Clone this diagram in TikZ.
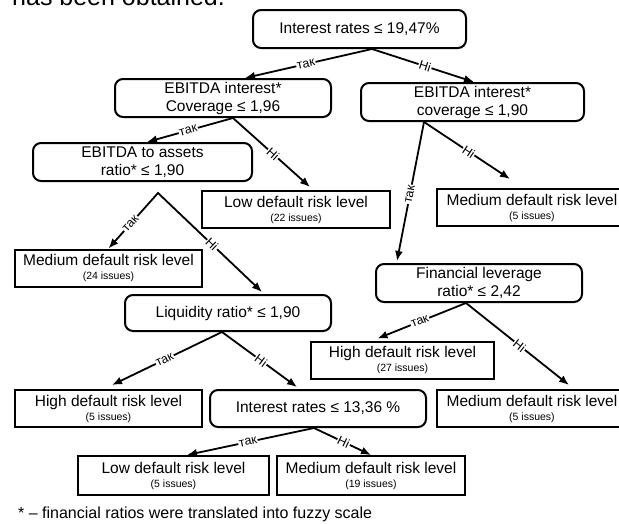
\documentclass[tikz,border=0pt]{standalone}
\usepackage{fontspec}
\setmainfont{Liberation Sans}
\usetikzlibrary{arrows.meta}
\tikzset{
  dec/.style={draw, line width=2pt, rounded corners=8pt, align=center, minimum height=38pt, inner sep=1pt, font=\fontsize{15.5}{18}\selectfont},
  leaf/.style={draw, line width=2pt, align=center, minimum height=37pt, inner sep=1pt, font=\fontsize{15.5}{18}\selectfont},
  edge/.style={line width=1.8pt, ->},
  lbl/.style={sloped, fill=white, inner sep=0.8pt, font=\fontsize{12.5}{13}\selectfont, pos=0.52},
}
\newcommand{\issues}[1]{\\[-4pt]{\fontsize{10.5}{12}\selectfont (#1 issues)}}

\begin{document}
\begin{tikzpicture}[x=1pt,y=-1pt,>={Latex[length=10pt,width=8pt]}]
\useasboundingbox (0,0) rectangle (619,523);
\node[anchor=base west, inner sep=0pt, font=\fontsize{25}{30}\selectfont] (intro) at (12,5) {has been obtained.};
\node[dec, minimum width=213pt] (root) at (359.5,29) {Interest rates ≤ 19,47\%};
\node[dec, minimum width=216pt] (cov1) at (223,98) {EBITDA interest*\\Coverage ≤ 1,96};
\node[dec, minimum width=223pt] (cov2) at (472.5,102) {EBITDA interest*\\coverage ≤ 1,90};
\node[dec, minimum width=219pt] (assets) at (142.5,162) {EBITDA to assets\\ratio* ≤ 1,90};
\node[leaf, minimum width=188pt] (low22) at (296,209.5) {Low default risk level\issues{22}};
\node[leaf, minimum width=190pt] (med5a) at (532,207.5) {Medium default risk level\issues{5}};
\node[leaf, minimum width=187pt] (med24) at (108.5,268) {Medium default risk level\issues{24}};
\node[dec, minimum width=206pt, minimum height=36pt] (liq) at (228,313) {Liquidity ratio* ≤ 1,90};
\node[dec, minimum width=206pt] (lev) at (479,283) {Financial leverage\\ratio* ≤ 2,42};
\node[leaf, minimum width=183pt] (high27) at (402.5,360) {High default risk level\issues{27}};
\node[leaf, minimum width=190pt] (med5b) at (532,408.5) {Medium default risk level\issues{5}};
\node[leaf, minimum width=187pt] (high5) at (108.5,408.5) {High default risk level\issues{5}};
\node[dec, minimum width=216pt, minimum height=37pt] (rate2) at (318,408.5) {Interest rates ≤ 13,36 \%};
\node[leaf, minimum width=191pt, minimum height=39pt] (low5) at (173.5,475.5) {Low default risk level\issues{5}};
\node[leaf, minimum width=188pt, minimum height=39pt] (med19) at (371,475.5) {Medium default risk level\issues{19}};
\node[anchor=base west, inner sep=0pt, font=\fontsize{16}{18}\selectfont] (note) at (18,518) {* – financial ratios were translated into fuzzy scale};

\coordinate (fork) at ([xshift=15.5pt,yshift=-11pt]assets.south);
\draw[edge] ([xshift=12.5pt]root.south) -- node[lbl]{так} ([xshift=22pt]cov1.north);
\draw[edge] ([xshift=12.5pt]root.south) -- node[lbl]{Ні} ([xshift=1.5pt]cov2.north);
\draw[edge] ([xshift=10pt]cov1.south) -- node[lbl]{так} ([xshift=4.5pt]assets.north);
\draw[edge] ([xshift=10pt]cov1.south) -- node[lbl]{Ні} ([xshift=14pt,yshift=3pt]low22.north);
\draw[edge] ([xshift=-48.5pt]cov2.south) -- node[lbl]{так} ([xshift=-82pt,yshift=2pt]lev.north);
\draw[edge] ([xshift=-48.5pt]cov2.south) -- node[lbl]{Ні} ([xshift=-22pt,yshift=9pt]med5a.north);
\draw[line width=1.8pt, <->] (med24.north) -- node[lbl, pos=0.45]{так} (fork) -- node[lbl]{Ні} ([xshift=34pt,yshift=2pt]liq.north);
\draw[edge] ([xshift=-13pt]lev.south) -- node[lbl]{так} ([xshift=-25pt,yshift=2pt]high27.north);
\draw[edge] ([xshift=-13pt]lev.south) -- node[lbl]{Ні} ([xshift=37pt,yshift=4pt]med5b.north);
\draw[edge] ([xshift=-6pt]liq.south) -- node[lbl]{так} ([xshift=3.5pt,yshift=4pt]high5.north);
\draw[edge] ([xshift=-6pt]liq.south) -- node[lbl]{Ні} ([xshift=-21pt,yshift=2pt]rate2.north);
\draw[edge] ([xshift=-4pt]rate2.south) -- node[lbl]{так} ([xshift=13.5pt]low5.north);
\draw[edge] ([xshift=-4pt]rate2.south) -- node[lbl]{Ні} (med19.north);
\end{tikzpicture}
\end{document}
